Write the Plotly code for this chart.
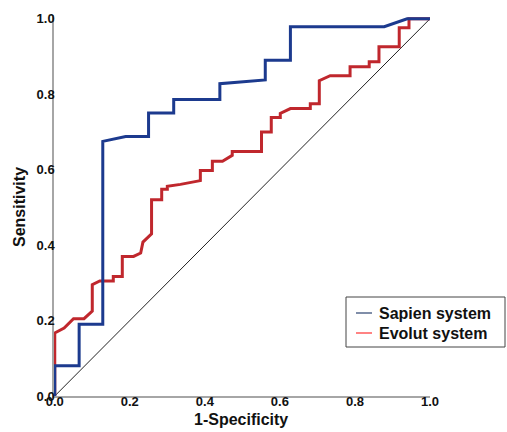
import plotly.graph_objects as go

# ---- data ----
sapien_fpr = [0, 0, 0.065, 0.065, 0.128, 0.128, 0.189, 0.25, 0.25, 0.317, 0.317, 0.44, 0.44,
              0.561, 0.561, 0.628, 0.628, 0.878, 0.939, 1.0]
sapien_tpr = [0, 0.08, 0.08, 0.19, 0.19, 0.675, 0.688, 0.688, 0.75, 0.75, 0.786, 0.786, 0.828,
              0.838, 0.89, 0.89, 0.979, 0.979, 1.0, 1.0]

evolut_fpr = [0, 0, 0.025, 0.05, 0.078, 0.1, 0.1, 0.12, 0.156, 0.156, 0.18, 0.18, 0.21, 0.229,
              0.235, 0.258, 0.258, 0.285, 0.285, 0.3, 0.3, 0.335, 0.388, 0.388, 0.42, 0.42, 0.447,
              0.473, 0.473, 0.551, 0.551, 0.577, 0.577, 0.601, 0.601, 0.628, 0.681, 0.681, 0.705,
              0.705, 0.734, 0.787, 0.787, 0.838, 0.838, 0.864, 0.864, 0.918, 0.918, 0.944, 0.944, 1.0]
evolut_tpr = [0, 0.167, 0.18, 0.205, 0.205, 0.225, 0.295, 0.305, 0.305, 0.317, 0.317, 0.37, 0.37,
              0.379, 0.408, 0.43, 0.52, 0.52, 0.548, 0.548, 0.556, 0.561, 0.571, 0.598, 0.598, 0.622,
              0.622, 0.638, 0.648, 0.648, 0.70, 0.70, 0.738, 0.738, 0.749, 0.762, 0.762, 0.775, 0.775,
              0.836, 0.849, 0.849, 0.873, 0.873, 0.886, 0.886, 0.926, 0.926, 0.976, 0.976, 1.0, 1.0]

ref_x = [0, 1]
ref_y = [0, 1]

series_names = ["Sapien system", "Evolut system"]
axis_titles = ["1-Specificity", "Sensitivity"]
tick_vals = [0, 0.2, 0.4, 0.6, 0.8, 1.0]
tick_text = ["0.0", "0.2", "0.4", "0.6", "0.8", "1.0"]

BLUE = "#1c3a8e"
RED = "#c0272d"
LEG_BLUE = "#56688c"
LEG_RED = "#ff5a5a"
FONT = "Liberation Sans, Arial, sans-serif"

W, H = 507, 432
L, R, T, B = 54, 77, 15, 36
pw, ph = W - L - R, H - T - B

def px(x):
    return (x - L) / pw

def py(y):
    return (H - B - y) / ph

fig = go.Figure()
fig.add_trace(go.Scatter(x=ref_x, y=ref_y, mode="lines",
                         line=dict(color="#222222", width=1), showlegend=False, hoverinfo="skip"))
fig.add_trace(go.Scatter(x=evolut_fpr, y=evolut_tpr, mode="lines", name=series_names[1],
                         line=dict(color=RED, width=3), showlegend=False))
fig.add_trace(go.Scatter(x=sapien_fpr, y=sapien_tpr, mode="lines", name=series_names[0],
                         line=dict(color=BLUE, width=3), showlegend=False))

axis_common = dict(
    showgrid=False, zeroline=False, showline=True, linecolor="#a6a6a6", linewidth=1.5,
    ticks="", tickvals=tick_vals, ticktext=tick_text, automargin=False,
    tickfont=dict(family=FONT, size=13, color="#111111", weight="bold"),
)
fig.update_xaxes(range=[-0.002, 1.0], ticklabelstandoff=-7, **axis_common)
fig.update_yaxes(range=[0, 1.01], ticklabelstandoff=-5, **axis_common)

# legend box drawn manually
shapes = [
    dict(type="rect", xref="paper", yref="paper", x0=px(346), x1=px(505), y0=py(347), y1=py(297),
         line=dict(color="#444444", width=1), fillcolor="white", layer="above"),
    dict(type="line", xref="paper", yref="paper", x0=px(356), x1=px(372), y0=py(313), y1=py(313),
         line=dict(color=LEG_BLUE, width=1.5)),
    dict(type="line", xref="paper", yref="paper", x0=px(356), x1=px(372), y0=py(333), y1=py(333),
         line=dict(color=LEG_RED, width=1.5)),
]
annotations = [
    dict(xref="paper", yref="paper", x=px(377), y=py(313), text="<b>" + series_names[0] + "</b>",
         showarrow=False, xanchor="left", yanchor="middle",
         font=dict(family=FONT, size=16, color="#111111")),
    dict(xref="paper", yref="paper", x=px(377), y=py(333), text="<b>" + series_names[1] + "</b>",
         showarrow=False, xanchor="left", yanchor="middle",
         font=dict(family=FONT, size=16, color="#111111")),
    dict(xref="paper", yref="paper", x=px(241), y=py(420), text="<b>" + axis_titles[0] + "</b>",
         showarrow=False, xanchor="center", yanchor="middle",
         font=dict(family=FONT, size=16, color="#111111")),
    dict(xref="paper", yref="paper", x=px(19), y=py(207), text="<b>" + axis_titles[1] + "</b>",
         showarrow=False, xanchor="center", yanchor="middle", textangle=-90,
         font=dict(family=FONT, size=16, color="#111111")),
]

fig.update_layout(
    width=W, height=H, margin=dict(l=L, r=R, t=T, b=B),
    paper_bgcolor="white", plot_bgcolor="white",
    shapes=shapes, annotations=annotations, showlegend=False,
    font=dict(family=FONT),
)
fig.write_html("out.html", config={"displayModeBar": False},
               post_script="document.body.style.margin='0';")
